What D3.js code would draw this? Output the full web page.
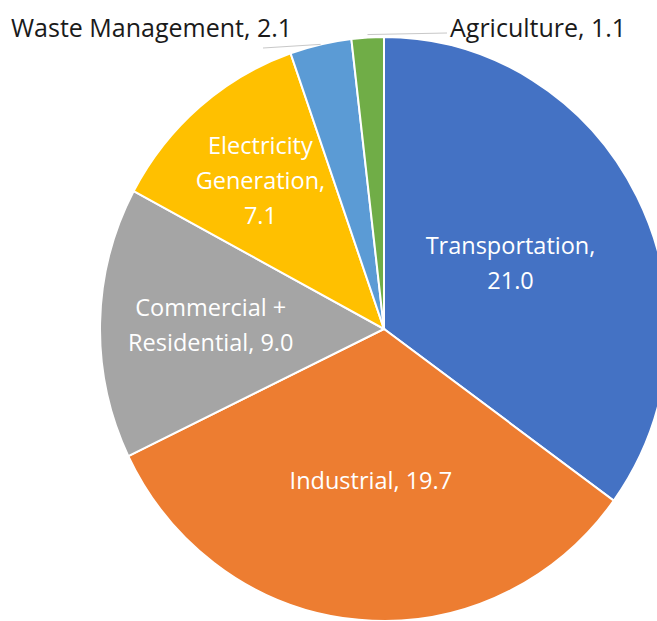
<!DOCTYPE html>
<html>
<head>
<meta charset="utf-8">
<script src="https://cdn.jsdelivr.net/npm/d3@7"></script>
<style>
  html, body { margin: 0; padding: 0; background: #fff; }
  svg { display: block; }
</style>
</head>
<body>
<script>
const width = 657, height = 621;

// data
const sectors = ['Transportation', 'Industrial', 'Commercial + Residential', 'Electricity Generation', 'Waste Management', 'Agriculture'];
const values = [21.0, 19.7, 9.0, 7.1, 2.1, 1.1];
const colors = ['#4472C4', '#ED7D31', '#A5A5A5', '#FFC000', '#5B9BD5', '#70AD47'];

// label lines as they wrap in the picture
const labelLines = [
  ['Transportation,', '21.0'],
  ['Industrial, 19.7'],
  ['Commercial +', 'Residential, 9.0'],
  ['Electricity', 'Generation,', '7.1'],
  ['Waste Management, 2.1'],
  ['Agriculture, 1.1']
];

// layout
const cx = 384, cy = 329, ry = 292, rx = 284;
const labelRadius = [0.5, 0.52, 0.61, 0.67]; // fraction of radius for inside labels
const fontFamily = '"Open Sans", "DejaVu Sans", sans-serif';
const fontSize = 23.5, outSize = 25, lineH = 35;

const svg = d3.select('body').append('svg')
  .attr('width', width)
  .attr('height', height);

const pie = d3.pie().sort(null).value(d => d)(values);
const arc = d3.arc().innerRadius(0).outerRadius(ry);

const g = svg.append('g')
  .attr('transform', `translate(${cx},${cy}) scale(${rx / ry},1)`);

g.selectAll('path')
  .data(pie)
  .join('path')
  .attr('d', arc)
  .attr('fill', (d, i) => colors[i])
  .attr('stroke', '#fff')
  .attr('stroke-width', 2)
  .attr('vector-effect', 'non-scaling-stroke');

// inside labels
const inside = pie.slice(0, 4);
const labels = svg.append('g')
  .attr('font-family', fontFamily)
  .attr('font-size', fontSize)
  .attr('fill', '#fff')
  .attr('text-anchor', 'middle');

inside.forEach((d, i) => {
  const a = (d.startAngle + d.endAngle) / 2;
  const x = cx + Math.sin(a) * rx * labelRadius[i];
  const y = cy - Math.cos(a) * ry * labelRadius[i];
  const lines = labelLines[i];
  const t = labels.append('text')
    .attr('x', x)
    .attr('y', y - (lines.length - 1) * lineH / 2 + fontSize * 0.36);
  lines.forEach((l, j) => {
    t.append('tspan').attr('x', x).attr('dy', j ? lineH : 0).text(l);
  });
});

// outside labels with leader lines
const topPoint = (ang, k) => [cx + Math.sin(ang) * rx * k, cy - Math.cos(ang) * ry * k];
const waste = pie[4], agri = pie[5];
const wMid = topPoint((waste.startAngle + waste.endAngle) / 2, 1.0);
const aMid = topPoint((agri.startAngle + agri.endAngle) / 2, 1.01);

svg.append('path')
  .attr('d', `M${wMid[0]},${wMid[1]}L263,48`)
  .attr('stroke', '#c8c8c8').attr('stroke-width', 1).attr('fill', 'none');
svg.append('path')
  .attr('d', `M${aMid[0]},${aMid[1]}L447,33`)
  .attr('stroke', '#c8c8c8').attr('stroke-width', 1).attr('fill', 'none');

svg.append('text')
  .attr('x', 11).attr('y', 37)
  .attr('font-family', fontFamily).attr('font-size', outSize)
  .attr('fill', '#1a1a1a')
  .text(labelLines[4][0]);

svg.append('text')
  .attr('x', 450).attr('y', 37)
  .attr('font-family', fontFamily).attr('font-size', outSize)
  .attr('fill', '#1a1a1a')
  .text(labelLines[5][0]);
</script>
</body>
</html>
